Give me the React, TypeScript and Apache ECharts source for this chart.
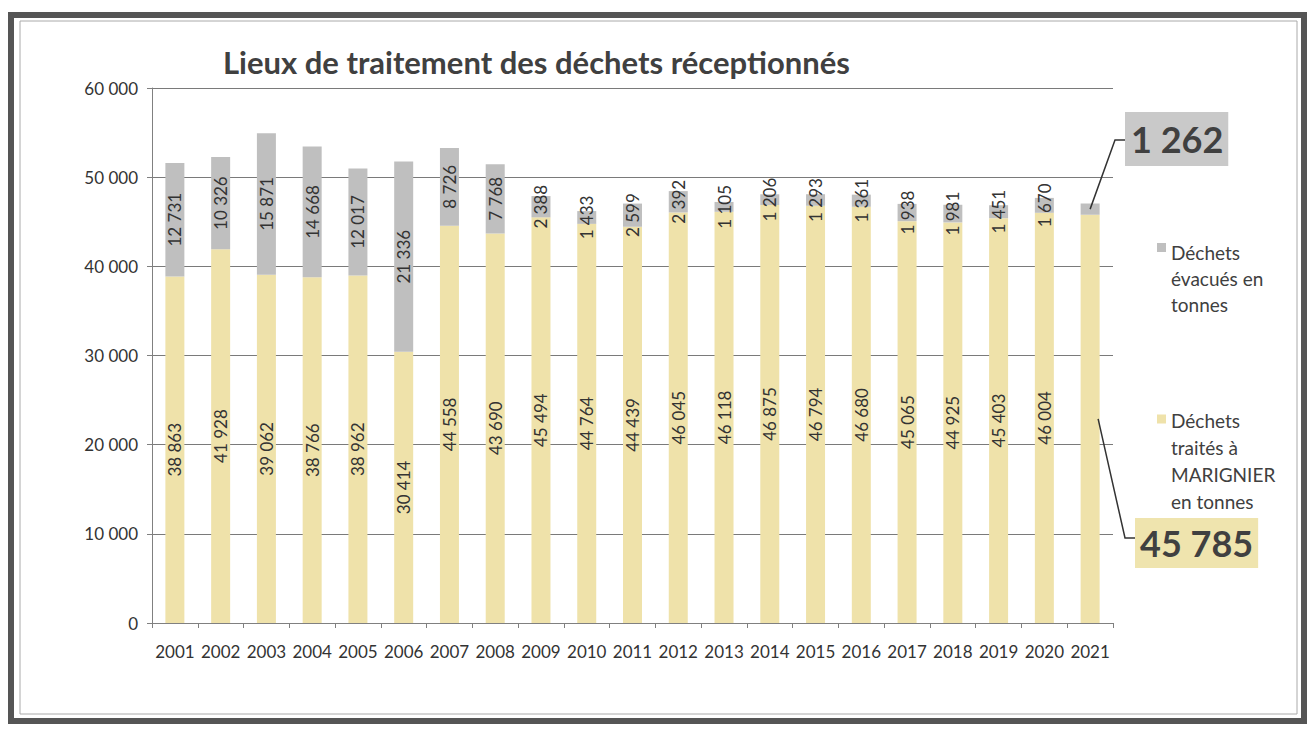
import React, { useEffect, useRef } from "react";
import * as echarts from "echarts";

const years = ["2001","2002","2003","2004","2005","2006","2007","2008","2009","2010","2011","2012","2013","2014","2015","2016","2017","2018","2019","2020","2021"];
const traites = [38863,41928,39062,38766,38962,30414,44558,43690,45494,44764,44439,46045,46118,46875,46794,46680,45065,44925,45403,46004,45785];
const evacues = [12731,10326,15871,14668,12017,21336,8726,7768,2388,1433,2599,2392,1105,1206,1293,1361,1938,1981,1451,1670,1262];
const yTicks = [0, 10000, 20000, 30000, 40000, 50000, 60000];

const nameEvac = "Déchets\névacués en\ntonnes";
const nameTrait = "Déchets\ntraités à\nMARIGNIER\nen tonnes";

const fmt = (v: number) => {
  const s = String(Math.round(v));
  return s.replace(/\B(?=(\d{3})+(?!\d))/g, " ");
};

const FONT = "Lato, 'DejaVu Sans', sans-serif";
const YELLOW = "#EFE2AA";
const GRAY = "#BFBFBF";

const iconPath = (h: number) => `path://M0,0h9v9h-9zM0,${h}h0.01v0.01h-0.01z`;

export default function App() {
  const ref = useRef<HTMLDivElement>(null);
  useEffect(() => {
    if (!ref.current) return;
    const chart = echarts.init(ref.current, null, { renderer: "svg" });
    const last = years.length - 1;
    const mk = (arr: number[]) =>
      arr.map((v, i) => (i === last ? { value: v, label: { show: false } } : v));
    const labelCommon = {
      show: true,
      position: "inside",
      rotate: 90,
      fontFamily: FONT,
      fontSize: 17,
      color: "#333333",
      formatter: (p: any) => fmt(p.value),
    };
    const legendBase = {
      orient: "vertical",
      left: 1157,
      itemWidth: 9,
      icon: "rect",
      padding: 0,
    };
    chart.setOption({
      animation: false,
      backgroundColor: "#ffffff",
      title: {
        text: "Lieux de traitement des déchets réceptionnés",
        left: 218,
        top: 41,
        textStyle: { fontFamily: FONT, fontSize: 31, fontWeight: "bold", color: "#404040" },
      },
      grid: { left: 152, right: 197, top: 88, bottom: 106, containLabel: false },
      legend: [
        {
          ...legendBase,
          top: 239,
          itemHeight: 70,
          icon: iconPath(70),
          data: [nameEvac],
          textStyle: { fontFamily: FONT, fontSize: 19, color: "#404040", lineHeight: 26 },
        },
        {
          ...legendBase,
          top: 407,
          itemHeight: 93,
          icon: iconPath(93),
          data: [nameTrait],
          textStyle: { fontFamily: FONT, fontSize: 19, color: "#404040", lineHeight: 27 },
        },
      ],
      xAxis: {
        type: "category",
        data: years,
        axisLine: { lineStyle: { color: "#808080" } },
        axisTick: { show: true, length: 5, lineStyle: { color: "#808080" } },
        axisLabel: { fontFamily: FONT, fontSize: 17, color: "#333", margin: 20, interval: 0 },
      },
      yAxis: {
        type: "value",
        min: yTicks[0],
        max: yTicks[yTicks.length - 1],
        interval: 10000,
        axisLine: { show: true, lineStyle: { color: "#808080" } },
        axisTick: { show: true, length: 5, lineStyle: { color: "#808080" } },
        splitLine: { lineStyle: { color: "#7a7a7a", width: 1 } },
        axisLabel: { fontFamily: FONT, fontSize: 17, color: "#333", margin: 14, formatter: (v: number) => fmt(v) },
      },
      series: [
        {
          name: nameTrait,
          type: "bar",
          stack: "t",
          barWidth: 19,
          data: mk(traites),
          itemStyle: { color: YELLOW },
          label: labelCommon,
          z: 2,
        },
        {
          name: nameEvac,
          type: "bar",
          stack: "t",
          barWidth: 19,
          data: mk(evacues),
          itemStyle: { color: GRAY },
          label: labelCommon,
          z: 3,
        },
      ],
    });

    const total = traites[last] + evacues[last];
    const pTop = chart.convertToPixel({ seriesIndex: 0 }, [last, total - evacues[last] / 2]) as number[];
    const pMid = chart.convertToPixel({ seriesIndex: 0 }, [last, traites[last] / 2]) as number[];

    chart.setOption({
      graphic: [
        { type: "rect", shape: { x: 11, y: 15, width: 1293, height: 706 }, style: { fill: "none", stroke: "#555", lineWidth: 6 }, z: 100 },
        { type: "rect", shape: { x: 20, y: 21, width: 1277, height: 693 }, style: { fill: "none", stroke: "#aaa", lineWidth: 1 }, z: 100 },
        {
          type: "polyline",
          shape: { points: [[pTop[0], pTop[1]], [1115, 140], [1125, 140]] },
          style: { stroke: "#333", lineWidth: 1.5, fill: "none" },
          z: 100,
        },
        {
          type: "polyline",
          shape: { points: [[pMid[0] + 8, pMid[1]], [1125, 538], [1135, 538]] },
          style: { stroke: "#333", lineWidth: 1.5, fill: "none" },
          z: 100,
        },
        {
          type: "text",
          x: 1125,
          y: 112,
          style: {
            text: fmt(evacues[last]),
            font: `bold 36px ${FONT}`,
            fill: "#404040",
            backgroundColor: "#C9C9C9",
            padding: [9, 5, 9, 6],
          },
          z: 100,
        },
        {
          type: "text",
          x: 1135,
          y: 518,
          style: {
            text: fmt(traites[last]),
            font: `bold 36px ${FONT}`,
            fill: "#404040",
            backgroundColor: "#EFE4AE",
            padding: [7, 5, 7, 5],
          },
          z: 100,
        },
      ],
    });

    return () => chart.dispose();
  }, []);
  return <div ref={ref} style={{ position: "fixed", left: 0, top: 0, width: 1310, height: 729 }} />;
}
